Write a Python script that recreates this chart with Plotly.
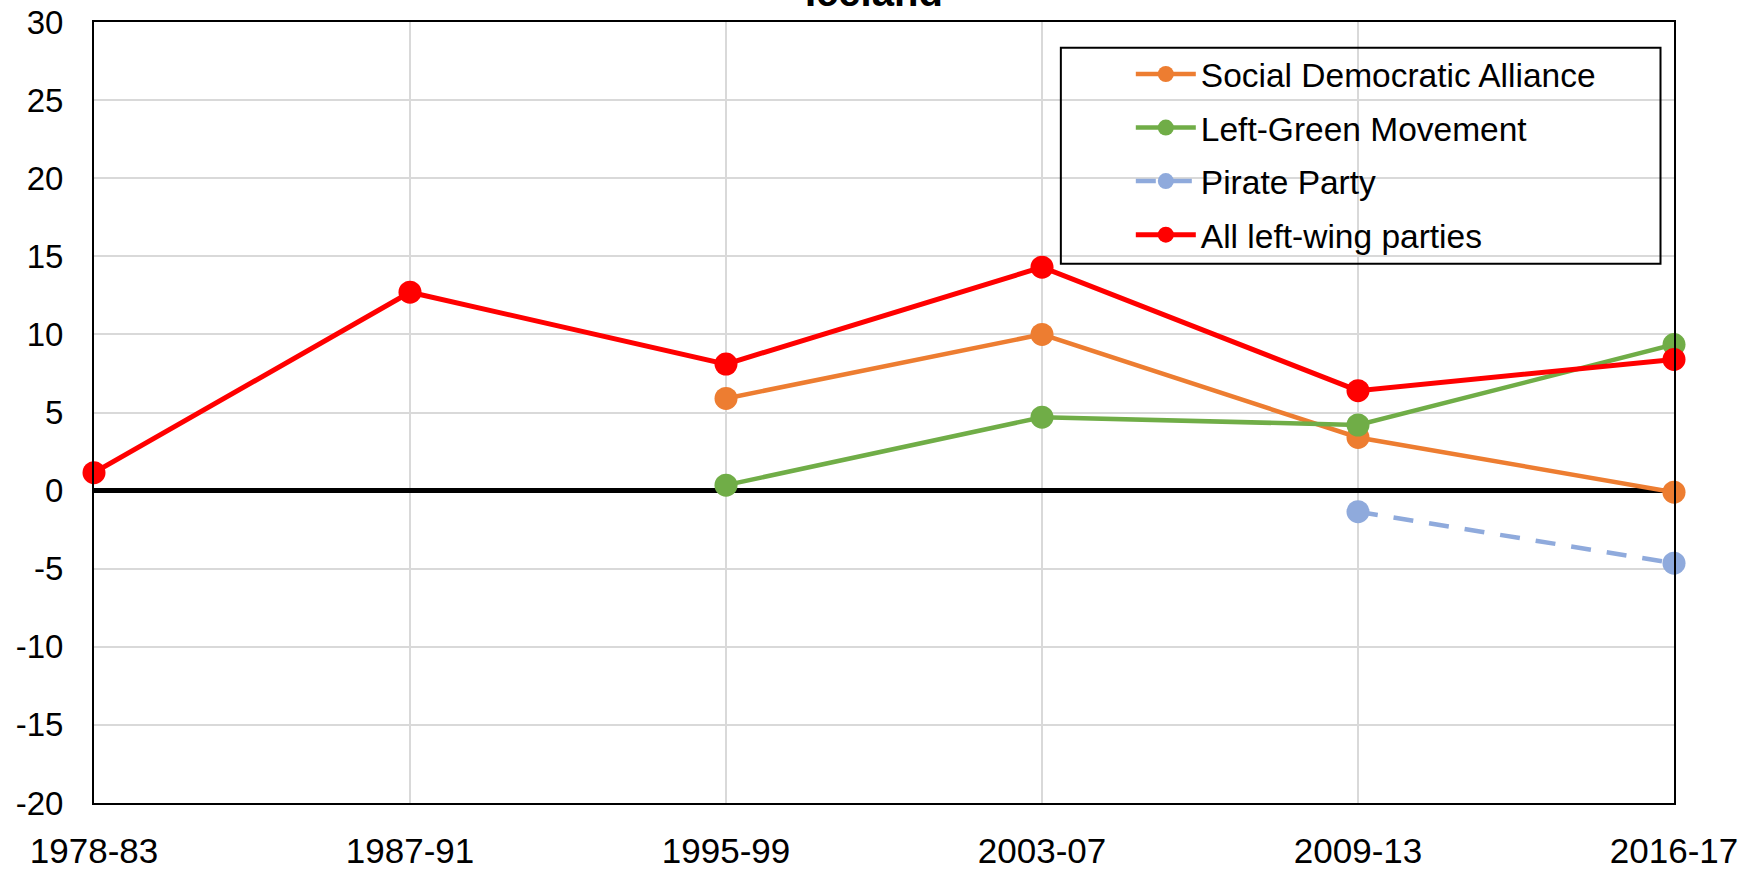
import plotly.graph_objects as go

periods = ["1978-83", "1987-91", "1995-99", "2003-07", "2009-13", "2016-17"]
social_democratic_alliance = [None, None, 5.9, 10.0, 3.4, -0.1]
left_green_movement = [None, None, 0.35, 4.7, 4.2, 9.35]
pirate_party = [None, None, None, None, -1.35, -4.65]
all_left_wing = [1.15, 12.7, 8.1, 14.3, 6.4, 8.4]
y_ticks = [-20, -15, -10, -5, 0, 5, 10, 15, 20, 25, 30]
y_tick_labels = [str(v) for v in y_ticks]

W, H = 1748, 870
L, R, T, B = 93.6, 73.5, 22.3, 67
pw, ph = W - L - R, H - T - B

def px(x):
    return (x - L) / pw

def py(y):
    return (H - B - y) / ph

FONT = "Liberation Sans, Arial, sans-serif"

fig = go.Figure()
series = [
    ("Social Democratic Alliance", social_democratic_alliance, "#ED7D31", "solid", 4.5),
    ("Left-Green Movement", left_green_movement, "#70AD47", "solid", 4.5),
    ("Pirate Party", pirate_party, "#8FAADC", "20px,16px", 4.5),
    ("All left-wing parties", all_left_wing, "#FF0000", "solid", 5),
]
for i, (name, vals, color, dash, lw) in enumerate(series):
    fig.add_trace(go.Scatter(
        x=periods, y=vals, name=name, mode="lines+markers",
        line=dict(color=color, width=lw, dash=dash),
        marker=dict(color=color, size=23),
        legendgroup=f"g{i}", cliponaxis=False,
    ))

fig.update_layout(
    width=W, height=H,
    margin=dict(l=L, r=R, t=T, b=B, autoexpand=False),
    plot_bgcolor="white", paper_bgcolor="white",
    font=dict(family=FONT, size=32, color="black"),
    showlegend=True,
    legend=dict(
        x=px(1131), y=py(46), xanchor="left", yanchor="top",
        bgcolor="rgba(0,0,0,0)", borderwidth=0,
        font=dict(family=FONT, size=33.5, color="black"),
        itemwidth=60, traceorder="grouped", tracegroupgap=7,
    ),
    xaxis=dict(
        type="category", range=[0, 5], showgrid=True, gridcolor="#D9D9D9", gridwidth=1.5,
        showline=True, linecolor="black", linewidth=2, mirror=True,
        ticks="", ticklabelstandoff=16, tickfont=dict(size=35),
    ),
    yaxis=dict(
        range=[-20, 30], tickvals=y_ticks, ticktext=y_tick_labels,
        showgrid=True, gridcolor="#D9D9D9", gridwidth=1.5,
        showline=True, linecolor="black", linewidth=2, mirror=True,
        zeroline=True, zerolinecolor="black", zerolinewidth=5,
        ticks="", ticklabelstandoff=22, tickfont=dict(size=33),
    ),
    shapes=[dict(
        type="rect", xref="paper", yref="paper",
        x0=px(1061), x1=px(1661), y0=py(264), y1=py(48),
        line=dict(color="black", width=2), fillcolor="rgba(0,0,0,0)", layer="above",
    )],
    annotations=[dict(
        text="<b>Iceland</b>", xref="paper", yref="paper", x=px(874), y=1,
        xanchor="center", yanchor="bottom", yshift=6, showarrow=False,
        font=dict(family=FONT, size=40, color="black"),
    )],
)

fig.write_html(
    "out.html",
    config={"displayModeBar": False},
    post_script="document.body.style.margin='0';document.body.style.padding='0';document.body.style.overflow='hidden';",
)
